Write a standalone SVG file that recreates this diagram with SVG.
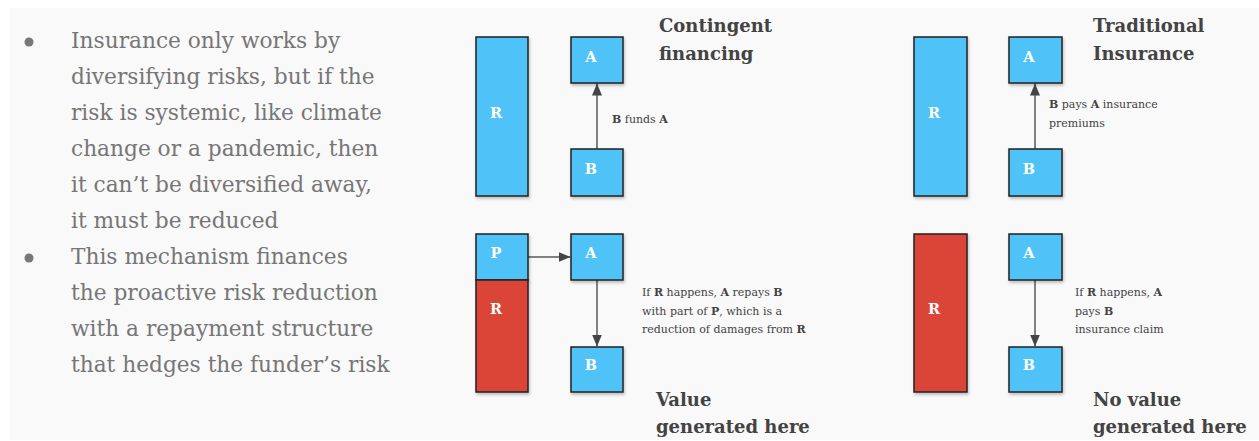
<svg xmlns="http://www.w3.org/2000/svg" width="1259" height="441" viewBox="0 0 1259 441">
<style>
.bg{fill:#f9f9f9}
.body{font-family:"DejaVu Serif","Liberation Serif",serif;font-size:21.7px;fill:#767676}
.title{font-family:"DejaVu Serif","Liberation Serif",serif;font-size:18px;font-weight:bold;fill:#434343}
.small{font-family:"DejaVu Serif","Liberation Serif",serif;font-size:11px;fill:#434343}
.small tspan.b{font-weight:bold}
.blue{fill:#4fc3f7;stroke:#222;stroke-width:1.5}
.red{fill:#db4437;stroke:#222;stroke-width:1.5}
.lbl{font-family:"DejaVu Serif","Liberation Serif",serif;font-size:14.5px;font-weight:bold;fill:#fff;text-anchor:middle}
.conn{stroke:#595959;stroke-width:1.5;fill:none;marker-end:url(#ah)}
</style>
<defs>
<marker id="ah" viewBox="0 0 12 10" refX="12" refY="5" markerWidth="12" markerHeight="10" markerUnits="userSpaceOnUse" orient="auto">
<path d="M0,0 L12,5 L0,10 z" fill="#444"/>
</marker>
<filter id="sh" x="-20%" y="-20%" width="140%" height="140%">
<feDropShadow dx="1" dy="2" stdDeviation="1.5" flood-color="#000" flood-opacity="0.25"/>
</filter>
</defs>
<rect x="0" y="0" width="1259" height="441" fill="#fff"/>
<rect class="bg" x="10" y="8" width="1249" height="432"/>

<g id="bullets">
<circle cx="29" cy="42" r="4.5" fill="#777"/>
<circle cx="29" cy="258" r="4.5" fill="#777"/>
<text class="body" x="71">
<tspan x="71" y="48">Insurance only works by</tspan>
<tspan x="71" y="84">diversifying risks, but if the</tspan>
<tspan x="71" y="120">risk is systemic, like climate</tspan>
<tspan x="71" y="156">change or a pandemic, then</tspan>
<tspan x="71" y="192">it can’t be diversified away,</tspan>
<tspan x="71" y="228">it must be reduced</tspan>
<tspan x="71" y="264">This mechanism finances</tspan>
<tspan x="71" y="300">the proactive risk reduction</tspan>
<tspan x="71" y="336">with a repayment structure</tspan>
<tspan x="71" y="372">that hedges the funder’s risk</tspan>
</text>
</g>

<g id="connectors">
<line class="conn" x1="597" y1="149" x2="597" y2="83.5"/>
<line class="conn" x1="528" y1="257" x2="570.5" y2="257"/>
<line class="conn" x1="597" y1="280" x2="597" y2="346.5"/>
<line class="conn" x1="1035" y1="149" x2="1035" y2="83.5"/>
<line class="conn" x1="1035" y1="280" x2="1035" y2="346.5"/>
</g>

<g id="cf-R1"><rect class="blue" filter="url(#sh)" x="476" y="37" width="52" height="159"/><text class="lbl" x="496" y="118">R</text></g>
<g id="cf-A1"><rect class="blue" filter="url(#sh)" x="571" y="37" width="52" height="46"/><text class="lbl" x="591" y="62">A</text></g>
<g id="cf-B1"><rect class="blue" filter="url(#sh)" x="571" y="149" width="52" height="47"/><text class="lbl" x="591" y="174">B</text></g>

<g id="cf-P"><rect class="blue" filter="url(#sh)" x="476" y="234" width="52" height="46"/><text class="lbl" x="496" y="258">P</text></g>
<g id="cf-R2"><rect class="red" filter="url(#sh)" x="476" y="280" width="52" height="112"/><text class="lbl" x="496" y="314">R</text></g>
<g id="cf-A2"><rect class="blue" filter="url(#sh)" x="571" y="234" width="52" height="46"/><text class="lbl" x="591" y="258">A</text></g>
<g id="cf-B2"><rect class="blue" filter="url(#sh)" x="571" y="347" width="52" height="45"/><text class="lbl" x="591" y="370">B</text></g>

<g id="ti-R1"><rect class="blue" filter="url(#sh)" x="914" y="37" width="53" height="159"/><text class="lbl" x="934" y="118">R</text></g>
<g id="ti-A1"><rect class="blue" filter="url(#sh)" x="1009" y="37" width="53" height="46"/><text class="lbl" x="1029" y="62">A</text></g>
<g id="ti-B1"><rect class="blue" filter="url(#sh)" x="1009" y="149" width="53" height="47"/><text class="lbl" x="1029" y="174">B</text></g>

<g id="ti-R2"><rect class="red" filter="url(#sh)" x="914" y="234" width="53" height="158"/><text class="lbl" x="934" y="314">R</text></g>
<g id="ti-A2"><rect class="blue" filter="url(#sh)" x="1009" y="234" width="53" height="46"/><text class="lbl" x="1029" y="258">A</text></g>
<g id="ti-B2"><rect class="blue" filter="url(#sh)" x="1009" y="347" width="53" height="45"/><text class="lbl" x="1029" y="370">B</text></g>

<g id="labels">
<text class="small" x="612" y="123"><tspan class="b">B</tspan> funds <tspan class="b">A</tspan></text>
<text class="small"><tspan x="642" y="296">If <tspan class="b">R</tspan> happens, <tspan class="b">A</tspan> repays <tspan class="b">B</tspan></tspan><tspan x="642" y="314.5">with part of <tspan class="b">P</tspan>, which is a</tspan><tspan x="642" y="333">reduction of damages from <tspan class="b">R</tspan></tspan></text>
<text class="small"><tspan x="1049" y="108"><tspan class="b">B</tspan> pays <tspan class="b">A</tspan> insurance</tspan><tspan x="1049" y="127">premiums</tspan></text>
<text class="small"><tspan x="1075" y="296">If <tspan class="b">R</tspan> happens, <tspan class="b">A</tspan></tspan><tspan x="1075" y="314.5">pays <tspan class="b">B</tspan></tspan><tspan x="1075" y="333">insurance claim</tspan></text>
<text class="title"><tspan x="659" y="32">Contingent</tspan><tspan x="659" y="59.5">financing</tspan></text>
<text class="title"><tspan x="1093" y="32">Traditional</tspan><tspan x="1093" y="59.5">Insurance</tspan></text>
<text class="title"><tspan x="656" y="406">Value</tspan><tspan x="656" y="433">generated here</tspan></text>
<text class="title"><tspan x="1093" y="406">No value</tspan><tspan x="1093" y="433">generated here</tspan></text>
</g>
</svg>
